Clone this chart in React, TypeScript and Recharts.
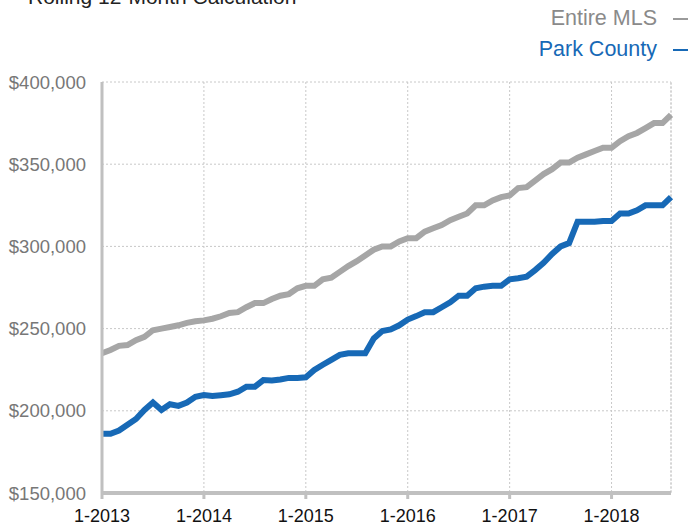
import * as React from 'react'
import { CartesianGrid, Line, LineChart, ReferenceLine, XAxis, YAxis } from 'recharts'

// Median sales price, rolling 12 months, in thousands of dollars (1-2013 .. 8-2018)
const mlsValues = [
  235, 237, 239.5, 240, 243, 245, 249, 250, 251, 252, 253.5, 254.5,
  255, 256, 257.5, 259.5, 260, 263, 265.5, 265.5, 268, 270, 271, 274.5,
  276, 276, 280, 281, 284.5, 288, 291, 294.5, 298, 300, 300, 303,
  305, 305, 309, 311, 313, 316, 318, 320, 325, 325, 328, 330,
  331, 335.5, 336, 340, 344, 347, 351, 351, 354, 356, 358, 360,
  360, 364, 367, 369, 372, 375, 375, 380,
]

const parkValues = [
  186, 186, 188, 191.5, 195, 200.5, 205, 200.5, 204, 203, 205, 208.5,
  209.6, 209, 209.5, 210, 211.6, 214.7, 214.7, 218.7, 218.5, 219, 220, 220,
  220.4, 224.8, 228, 231, 234, 235, 235, 235, 244, 248.5, 249.5, 252,
  255.5, 257.6, 260, 260, 263, 266, 270, 270, 274.5, 275.5, 276, 276,
  280, 280.6, 281.6, 285.6, 290, 295.4, 300, 302, 315, 315, 315, 315.5,
  315.5, 320, 320, 322, 325, 325, 325, 330,
]

const xTicks = ['1-2013', '1-2014', '1-2015', '1-2016', '1-2017', '1-2018']
const yTicks = [150000, 200000, 250000, 300000, 350000, 400000]

const months: string[] = []
for (let y = 2013; y <= 2018; y++) {
  for (let m = 1; m <= 12; m++) months.push(`${m}-${y}`)
}

const data = mlsValues.map((v, i) => ({
  month: months[i],
  mls: v * 1000,
  park: parkValues[i] * 1000,
}))

const FONT = '"Liberation Sans", Arial, Helvetica, sans-serif'
const GRAY_LINE = '#a6a6a6'
const BLUE_LINE = '#1769b6'
const AXIS = '#c0c0c0'

function LegendRow({ label, color, dash }: { label: string; color: string; dash: string }) {
  return (
    <div style={{ color, whiteSpace: 'nowrap' }}>
      {label}
      <span
        style={{
          display: 'inline-block',
          width: 15,
          height: 2,
          marginLeft: 16,
          verticalAlign: 'middle',
          background: dash,
        }}
      />
    </div>
  )
}

export default function App() {
  return (
    <div
      style={{
        position: 'absolute',
        left: 0,
        top: 0,
        width: 689,
        height: 525,
        background: '#fff',
        overflow: 'hidden',
        fontFamily: FONT,
      }}
    >
      <div style={{ position: 'absolute', left: 28, top: -15, fontSize: 21, color: '#222' }}>
        Rolling 12-Month Calculation
      </div>

      <div
        style={{
          position: 'absolute',
          right: 1,
          top: 3,
          fontSize: 21.5,
          lineHeight: '31px',
          textAlign: 'right',
        }}
      >
        <LegendRow label="Entire MLS" color="#8a8a8a" dash="#9a9a9a" />
        <LegendRow label="Park County" color={BLUE_LINE} dash={BLUE_LINE} />
      </div>

      <LineChart
        width={689}
        height={525}
        data={data}
        margin={{ top: 82, right: 18, bottom: 0, left: 0 }}
      >
        <CartesianGrid stroke="#c8c8c8" strokeDasharray="2 2" />
        <ReferenceLine x="8-2018" stroke="#c8c8c8" strokeDasharray="2 2" />
        <XAxis
          dataKey="month"
          ticks={xTicks}
          interval={0}
          height={32}
          axisLine={{ stroke: AXIS, strokeWidth: 4 }}
          tickLine={{ stroke: AXIS, strokeWidth: 3 }}
          tickSize={6}
          tickMargin={10}
          tick={{ fontSize: 18, fill: '#111', fontFamily: FONT }}
        />
        <YAxis
          domain={[150000, 400000]}
          ticks={yTicks}
          width={102}
          axisLine={{ stroke: AXIS, strokeWidth: 3 }}
          tickLine={false}
          tickMargin={10}
          tick={{ fontSize: 18.5, fill: '#777', fontFamily: FONT }}
          tickFormatter={(v: number) => `$${v.toLocaleString('en-US')}`}
        />
        <Line
          type="linear"
          dataKey="mls"
          stroke={GRAY_LINE}
          strokeWidth={6}
          dot={false}
          isAnimationActive={false}
        />
        <Line
          type="linear"
          dataKey="park"
          stroke={BLUE_LINE}
          strokeWidth={6}
          dot={false}
          isAnimationActive={false}
        />
      </LineChart>
    </div>
  )
}
